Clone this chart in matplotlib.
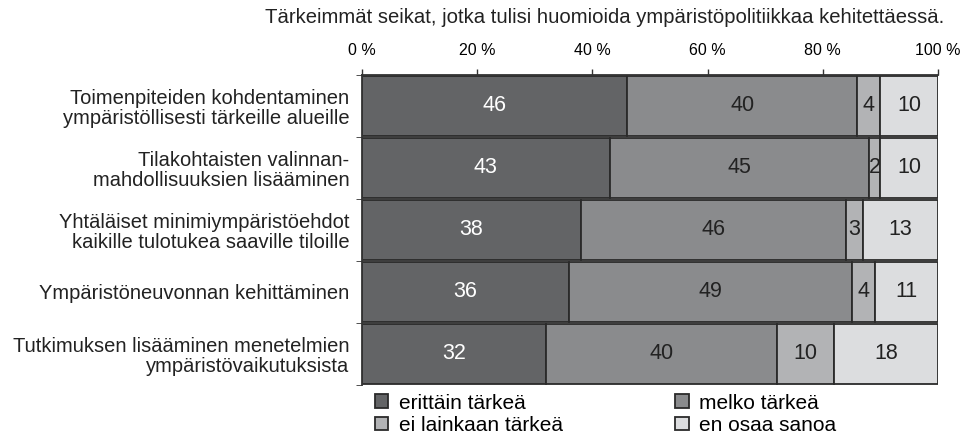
import numpy as np
import matplotlib
matplotlib.use("Agg")
from matplotlib import pyplot as plt

plt.rcParams['font.family'] = ['Liberation Sans', 'DejaVu Sans']

# data
categories = [
    "Toimenpiteiden kohdentaminen\nympäristöllisesti tärkeille alueille",
    "Tilakohtaisten valinnan-\nmahdollisuuksien lisääminen",
    "Yhtäläiset minimiympäristöehdot\nkaikille tulotukea saaville tiloille",
    "Ympäristöneuvonnan kehittäminen",
    "Tutkimuksen lisääminen menetelmien\nympäristövaikutuksista",
]
series_names = ["erittäin tärkeä", "melko tärkeä", "ei lainkaan tärkeä", "en osaa sanoa"]
erittain = [46, 43, 38, 36, 32]
melko = [40, 45, 46, 49, 40]
ei_lainkaan = [4, 2, 3, 4, 10]
en_osaa = [10, 10, 13, 11, 18]
tick_vals = [0, 20, 40, 60, 80, 100]
title = "Tärkeimmät seikat, jotka tulisi huomioida ympäristöpolitiikkaa kehitettäessä."

colors = ["#636466", "#8a8b8d", "#b2b3b5", "#dcdddf"]
text_colors = ["white", "#222222", "#222222", "#222222"]

fig = plt.figure(figsize=(9.66, 4.36), dpi=100)
ax = fig.add_axes([0.3747, 0.117, 0.5963, 0.711])

y = np.arange(len(categories))
left = np.zeros(len(categories))
handles = []
for vals, name, c, tc in zip([erittain, melko, ei_lainkaan, en_osaa], series_names, colors, text_colors):
    vals = np.array(vals, dtype=float)
    b = ax.barh(y, vals, left=left, height=0.97, color=c, edgecolor="#2a2a2a", linewidth=1.3, label=name)
    handles.append(b)
    for yi, l, v in zip(y, left, vals):
        ax.text(l + v / 2, yi, f"{int(v)}", ha="center", va="center", fontsize=15.5, color=tc)
    left += vals

ax.set_xlim(0, 100)
ax.set_ylim(len(categories) - 0.5, -0.5)
ax.xaxis.tick_top()
ax.set_xticks(tick_vals)
ax.set_xticklabels([f"{v} %" for v in tick_vals], fontsize=11.5)
ax.tick_params(axis="x", direction="out", length=4, width=1, color="#333333", pad=8)

ax.set_yticks(np.arange(len(categories) + 1) - 0.5, minor=True)
ax.set_yticks(y)
ax.set_yticklabels(categories, fontsize=14.5, linespacing=1.08, color="#222222")
ax.tick_params(axis="y", which="major", length=0, pad=9)
ax.tick_params(axis="y", which="minor", direction="out", length=4, color="#333333")

for s in ["right", "bottom"]:
    ax.spines[s].set_visible(False)
for s in ["left", "top"]:
    ax.spines[s].set_color("#333333")
    ax.spines[s].set_linewidth(1.3)

fig.text(0.978, 0.959, title, ha="right", va="center", fontsize=14.6, color="#222222")

order = [0, 2, 1, 3]
leg = fig.legend([handles[i] for i in order], [series_names[i] for i in order],
                 ncol=2, loc="upper left", bbox_to_anchor=(0.388, 0.097),
                 frameon=False, fontsize=15, handlelength=0.65, handleheight=0.65,
                 handletextpad=0.5, columnspacing=5.4, labelspacing=0.15,
                 borderaxespad=0, borderpad=0)

fig.savefig("out.png", dpi=100)
